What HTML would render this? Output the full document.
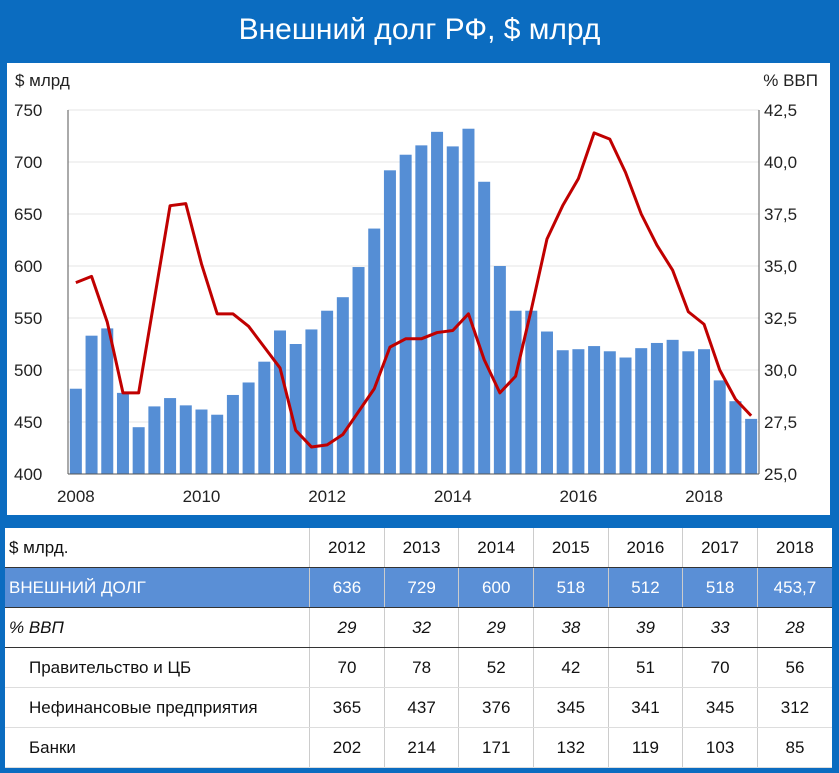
<!DOCTYPE html>
<html><head><meta charset="utf-8"><style>
body{margin:0;width:839px;height:773px;background:#0b6cc0;font-family:"Liberation Sans","Noto Sans CJK SC",sans-serif;overflow:hidden;position:relative}
#title{position:absolute;left:0;top:0;width:839px;height:62px;line-height:60px;text-align:center;color:#fff;font-size:30px}
#panel{position:absolute;left:7px;top:63px;width:823px;height:452px;background:#fff}
#tbl{position:absolute;left:5px;top:528px;width:827px;border-collapse:collapse;background:#fff;font-size:17px;color:#111}
#tbl td{height:39px;padding:0;border-bottom:1px solid #ddd;border-left:1px solid #ccc;text-align:center;width:77px}
#tbl td:first-child{text-align:left;width:295px;border-left:none;padding-left:4px}
#tbl tr.blue td{background:#5a8fd6;color:#fff;border-bottom:1px solid #333}
#tbl tr.hdr td{border-bottom:1px solid #333}
#tbl tr.it td{font-style:italic;border-bottom:1px solid #333}
#tbl td.ind{padding-left:24px}
</style></head><body>
<div id="title">Внешний долг РФ, $ млрд</div>
<div id="panel"></div>
<svg id="chart" width="839" height="520" style="position:absolute;left:0;top:0" font-family="Liberation Sans, sans-serif"></svg>
<table id="tbl">
<tr class="hdr"><td>$ млрд.</td><td>2012</td><td>2013</td><td>2014</td><td>2015</td><td>2016</td><td>2017</td><td>2018</td></tr>
<tr class="blue"><td>ВНЕШНИЙ ДОЛГ</td><td>636</td><td>729</td><td>600</td><td>518</td><td>512</td><td>518</td><td>453,7</td></tr>
<tr class="it"><td>% ВВП</td><td>29</td><td>32</td><td>29</td><td>38</td><td>39</td><td>33</td><td>28</td></tr>
<tr><td class="ind">Правительство и ЦБ</td><td>70</td><td>78</td><td>52</td><td>42</td><td>51</td><td>70</td><td>56</td></tr>
<tr><td class="ind">Нефинансовые предприятия</td><td>365</td><td>437</td><td>376</td><td>345</td><td>341</td><td>345</td><td>312</td></tr>
<tr><td class="ind">Банки</td><td>202</td><td>214</td><td>171</td><td>132</td><td>119</td><td>103</td><td>85</td></tr>
</table>
<script>
const debt=[482,533,540,478,445,465,473,466,462,457,476,488,508,538,525,539,557,570,599,636,692,707,716,729,715,732,681,600,557,557,537,519,520,523,518,512,521,526,529,518,520,490,470,453];
const gdpPct=[34.2,34.5,32.3,28.9,28.9,33.4,37.9,38.0,35.1,32.7,32.7,32.1,31.1,30.1,27.1,26.3,26.4,26.9,28.0,29.1,31.1,31.5,31.5,31.8,31.9,32.7,30.5,28.9,29.7,32.9,36.3,37.9,39.2,41.4,41.1,39.5,37.5,36.0,34.8,32.8,32.2,30.0,28.6,27.8];
const leftTicks=[400,450,500,550,600,650,700,750];
const rightTicks=["25,0","27,5","30,0","32,5","35,0","37,5","40,0","42,5"];
const yearLabels=["2008","2010","2012","2014","2016","2018"];
const svg=document.getElementById('chart');
const NS='http://www.w3.org/2000/svg';
const X0=68,X1=759,Y0=474,Y1=110;
const band=(X1-X0)/debt.length;
const xc=i=>X0+band*(i+0.5);
const yL=v=>Y0-(v-400)/350*(Y0-Y1);
const yR=v=>Y0-(v-25)/17.5*(Y0-Y1);
function mk(t,a){const e=document.createElementNS(NS,t);for(const k in a)e.setAttribute(k,a[k]);svg.appendChild(e);return e;}
leftTicks.forEach((v,i)=>{
 const g=mk('line',{x1:X0,x2:X1,y1:yL(v),y2:yL(v),stroke:'#e6e6e6'});
 
 
 const t=mk('text',{x:14,y:yL(v)+6,'font-size':17,fill:'#222'});t.textContent=v;
 
 
 const r=mk('text',{x:764,y:yL(v)+6,'font-size':17,fill:'#222'});r.textContent=rightTicks[i];
 
 
});
debt.forEach((v,i)=>{
 const b=mk('rect',{x:xc(i)-6,y:yL(v),width:12,height:Y0-yL(v),fill:'#558ed5'});
 
 
});
mk('line',{x1:X0,x2:X0,y1:Y1,y2:Y0,stroke:'#555'});
mk('line',{x1:X1,x2:X1,y1:Y1,y2:Y0,stroke:'#555'});
mk('line',{x1:X0,x2:X1,y1:Y0,y2:Y0,stroke:'#555'});
const pl=mk('polyline',{points:gdpPct.map((v,i)=>xc(i)+','+yR(v)).join(' '),fill:'none',stroke:'#c00000','stroke-width':3,'stroke-linejoin':'round'});


yearLabels.forEach((y,k)=>{
 const t=mk('text',{x:xc(k*8),y:502,'font-size':17,fill:'#222','text-anchor':'middle'});t.textContent=y;
 
 
});
const a=mk('text',{x:15,y:86,'font-size':17,fill:'#222'});a.textContent='$ млрд';


const b=mk('text',{x:818,y:86,'font-size':17,fill:'#222','text-anchor':'end'});b.textContent='% ВВП';


</script>
</body></html>
